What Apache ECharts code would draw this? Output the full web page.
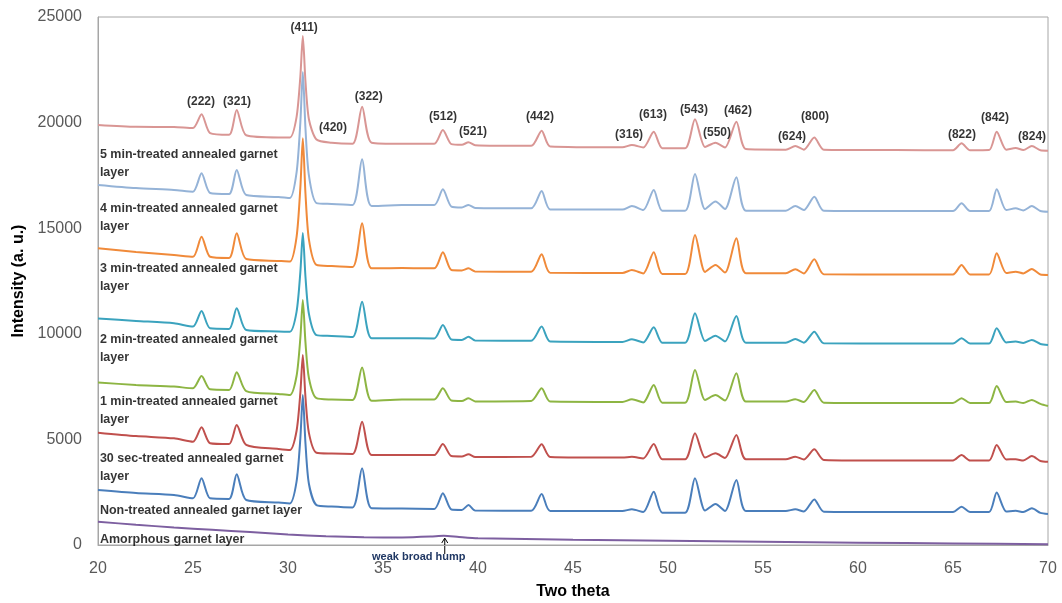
<!DOCTYPE html>
<html>
<head>
<meta charset="utf-8">
<title>XRD garnet layers</title>
<script src="https://cdn.jsdelivr.net/npm/echarts@6/dist/echarts.min.js"></script>
<style>
  html, body { margin: 0; padding: 0; background: #fff; }
  #echart { width: 1062px; height: 603px; }
</style>
</head>
<body>
<div id="echart"></div>
<script>
// 2-theta sample points shared by the crystalline patterns
const twoTheta = [20, 22, 24, 25.0, 25.45, 25.9, 26.9, 27.3, 27.8, 29.5,
  30.1, 30.45, 30.65, 30.78, 30.92, 31.1, 31.5, 32.3, 33.4, 33.9,
  34.4, 36, 37.7, 38.15, 38.6, 39.15, 39.5, 39.85, 42.8, 43.35,
  43.8, 47.6, 48.1, 48.7, 49.25, 49.7, 50.9, 51.42, 51.95, 52.5,
  53.0, 53.6, 54.1, 56.2, 56.7, 57.15, 57.7, 58.2, 62, 65.0,
  65.45, 65.9, 66.9, 67.3, 67.8, 68.3, 68.7, 69.15, 69.6, 70];

const fiveMin = [19890, 19800, 19790, 19740, 20390, 19500, 19420, 20600, 19400, 19300,
  19300, 20260, 22180, 24100, 21940, 20160, 19200, 19050, 19000, 20750,
  19050, 19000, 19000, 19650, 18980, 18950, 19070, 18930, 18900, 19620,
  18870, 18830, 18940, 18820, 19570, 18790, 18790, 20160, 18850, 19050,
  18820, 20040, 18750, 18720, 18890, 18720, 19290, 18720, 18700, 18690,
  19020, 18690, 18700, 19570, 18720, 18800, 18700, 18890, 18690, 18670];

const fourMin = [17050, 16900, 16810, 16730, 17600, 16670, 16620, 17760, 16570, 16480,
  16430, 17630, 20010, 22400, 19710, 17500, 16190, 16150, 16100, 18260,
  16050, 16100, 16100, 16840, 16020, 15980, 16100, 15960, 15940, 16760,
  15890, 15880, 16050, 15860, 16810, 15830, 15830, 17570, 15910, 16260,
  15910, 17410, 15830, 15830, 16050, 15860, 16490, 15830, 15815, 15815,
  16180, 15815, 15815, 16840, 15860, 15940, 15840, 16050, 15815, 15780];

const threeMin = [14050, 13870, 13730, 13650, 14600, 13650, 13590, 14760, 13540, 13450,
  13420, 14580, 16920, 19260, 16630, 14470, 13260, 13210, 13160, 15230,
  13100, 13120, 13100, 13860, 13020, 13000, 13100, 12950, 12940, 13770,
  12890, 12880, 13020, 12860, 13860, 12830, 12830, 14680, 12930, 13260,
  12900, 14520, 12870, 12870, 13060, 12860, 13530, 12820, 12810, 12810,
  13260, 12810, 12810, 13810, 12880, 12940, 12860, 13070, 12810, 12790];

const twoMin = [10730, 10610, 10500, 10340, 11080, 10260, 10230, 11210, 10180, 10110,
  10100, 11040, 12920, 14770, 12690, 10950, 9940, 9900, 9850, 11520,
  9790, 9790, 9780, 10420, 9730, 9710, 9860, 9680, 9670, 10340,
  9630, 9610, 9740, 9590, 10310, 9580, 9580, 10970, 9660, 9910,
  9640, 10840, 9580, 9580, 9750, 9580, 10100, 9550, 9540, 9540,
  9790, 9540, 9540, 10260, 9590, 9630, 9570, 9710, 9520, 9470];

const oneMin = [7690, 7580, 7500, 7420, 8000, 7370, 7340, 8180, 7290, 7150,
  7100, 8000, 9800, 11600, 9580, 7910, 6950, 6890, 6870, 8410,
  6830, 6890, 6890, 7420, 6840, 6820, 6950, 6800, 6820, 7420,
  6790, 6770, 6900, 6750, 7580, 6740, 6740, 8290, 6870, 7100,
  6840, 8130, 6790, 6790, 6900, 6770, 7340, 6740, 6720, 6720,
  6950, 6720, 6720, 7530, 6770, 6790, 6720, 6870, 6680, 6580];

const thirtySec = [5320, 5160, 5050, 4890, 5570, 4820, 4780, 5680, 4740, 4550,
  4500, 5400, 7200, 9000, 6980, 5310, 4370, 4330, 4310, 5840,
  4260, 4260, 4260, 4780, 4210, 4190, 4300, 4170, 4180, 4770,
  4170, 4140, 4180, 4100, 4780, 4060, 4060, 5290, 4140, 4340,
  4120, 5210, 4060, 4060, 4180, 4050, 4530, 4030, 4000, 4000,
  4260, 4000, 4000, 4740, 4050, 4060, 4000, 4210, 3980, 3940];

const nonTreated = [2600, 2460, 2370, 2210, 3160, 2210, 2180, 3350, 2130, 2010,
  1970, 3000, 5050, 7100, 4800, 2900, 1890, 1820, 1780, 3630,
  1740, 1730, 1710, 2450, 1680, 1660, 1890, 1630, 1620, 2420,
  1610, 1610, 1690, 1560, 2520, 1530, 1530, 3160, 1630, 1940,
  1610, 3080, 1610, 1610, 1690, 1590, 2160, 1580, 1560, 1560,
  1810, 1560, 1560, 2480, 1590, 1620, 1560, 1740, 1520, 1470];

// amorphous layer has no peaks, only a slow decay and a weak hump
const amorphousTheta = [20, 22, 24, 26, 28, 30, 32, 34, 36, 37.5, 38.2, 39, 40, 45, 50, 55, 60, 65, 70];
const amorphous = [1100, 960, 830, 720, 610, 500, 410, 365, 360, 400, 440, 380, 320, 250, 205, 155, 110, 75, 35];

const layerNames = [
  '5 min-treated annealed garnet\nlayer',
  '4 min-treated annealed garnet\nlayer',
  '3 min-treated annealed garnet\nlayer',
  '2 min-treated annealed garnet\nlayer',
  '1 min-treated annealed garnet\nlayer',
  '30 sec-treated annealed garnet\nlayer',
  'Non-treated annealed garnet layer',
  'Amorphous garnet layer'
];
const layerLabelY = [18060, 15500, 12640, 9300, 6370, 3690, 1610, 240];

const peakNames = ['(222)', '(321)', '(411)', '(420)', '(322)', '(512)', '(521)', '(442)', '(316)',
  '(613)', '(543)', '(550)', '(462)', '(624)', '(800)', '(822)', '(842)', '(824)'];
const peakLabelX = [25.42, 27.32, 30.85, 32.37, 34.25, 38.16, 39.74, 43.26, 47.95,
  49.21, 51.37, 52.58, 53.68, 56.53, 57.74, 65.47, 67.21, 69.16];
const peakLabelY = [21000, 21000, 24500, 19750, 21250, 20260, 19550, 20260, 19410,
  20360, 20600, 19500, 20550, 19320, 20260, 19410, 20220, 19320];

const colors = ['#D99694', '#95B3D7', '#F08A3A', '#3BA3BE', '#8DB543', '#C0504D', '#4A7EBB', '#7D5FA0'];
const patterns = [fiveMin, fourMin, threeMin, twoMin, oneMin, thirtySec, nonTreated];

const chartDom = document.getElementById('echart');
const myChart = echarts.init(chartDom);

const lineSeries = patterns.map((ys, i) => ({
  name: layerNames[i],
  type: 'line',
  showSymbol: false,
  silent: true,
  smooth: 0.25,
  lineStyle: { width: 2, color: colors[i] },
  data: twoTheta.map((x, j) => [x, ys[j]])
}));
lineSeries.push({
  name: layerNames[7],
  type: 'line',
  showSymbol: false,
  silent: true,
  smooth: 0.25,
  lineStyle: { width: 2, color: colors[7] },
  data: amorphousTheta.map((x, j) => [x, amorphous[j]])
});

const option = {
  animation: false,
  grid: {
    left: 98, right: 14, top: 17, bottom: 58,
    outerBoundsMode: 'none',
    show: true, borderColor: '#A6A6A6', borderWidth: 1
  },
  xAxis: {
    type: 'value', min: 20, max: 70, interval: 5,
    name: 'Two theta', nameLocation: 'middle', nameGap: 39,
    nameTextStyle: { fontFamily: 'Liberation Sans', fontWeight: 'bold', fontSize: 16, color: '#000' },
    axisLine: { show: true, lineStyle: { color: '#A6A6A6' } },
    axisTick: { show: false },
    splitLine: { show: false },
    axisLabel: { fontFamily: 'Liberation Sans', fontSize: 16, color: '#595959', margin: 16 }
  },
  yAxis: {
    type: 'value', min: 0, max: 25000, interval: 5000,
    name: 'Intensity (a. u.)', nameLocation: 'middle', nameGap: 70,
    nameTextStyle: { fontFamily: 'Liberation Sans', fontWeight: 'bold', fontSize: 16, color: '#000' },
    axisLine: { show: true, lineStyle: { color: '#A6A6A6' } },
    axisTick: { show: false },
    splitLine: { show: false },
    axisLabel: {
      fontFamily: 'Liberation Sans', fontSize: 16, color: '#595959', margin: 16,
      formatter: (v) => String(v)
    }
  },
  series: lineSeries.concat([
    {
      type: 'scatter',
      silent: true,
      symbolSize: 0,
      itemStyle: { color: '#000' },
      z: 10,
      label: {
        show: true, position: 'inside', formatter: '{b}',
        fontFamily: 'Liberation Sans', fontWeight: 'bold', fontSize: 12, color: '#000',
        textBorderWidth: 0
      },
      data: peakNames.map((n, i) => ({ name: n, value: [peakLabelX[i], peakLabelY[i]] }))
    },
    {
      type: 'scatter',
      silent: true,
      symbolSize: 0,
      itemStyle: { color: '#000' },
      z: 10,
      label: {
        show: true, position: 'right', distance: 0, formatter: '{b}',
        align: 'left', verticalAlign: 'middle', lineHeight: 18,
        fontFamily: 'Liberation Sans', fontWeight: 'bold', fontSize: 12.5, color: '#000',
        textBorderWidth: 0
      },
      data: layerNames.map((n, i) => ({ name: n, value: [20.1, layerLabelY[i]] }))
    }
  ])
};

option && myChart.setOption(option);

// note under the amorphous trace, placed from axis coordinates
const hump = myChart.convertToPixel({ gridIndex: 0 }, [38.25, 0]);
myChart.setOption({
  graphic: [
    {
      type: 'line', silent: true,
      shape: { x1: hump[0], y1: hump[1] + 9, x2: hump[0], y2: hump[1] - 6 },
      style: { stroke: '#000', lineWidth: 1 }
    },
    {
      type: 'polyline', silent: true,
      shape: { points: [[hump[0] - 3, hump[1] - 2], [hump[0], hump[1] - 7], [hump[0] + 3, hump[1] - 2]] },
      style: { stroke: '#000', lineWidth: 1, fill: null }
    },
    {
      type: 'text', silent: true,
      x: hump[0] - 26, y: hump[1] + 12,
      style: {
        text: 'weak broad hump', fill: '#203864', align: 'center', verticalAlign: 'middle',
        font: 'bold 11px "Liberation Sans"'
      }
    }
  ]
});
</script>
</body>
</html>
